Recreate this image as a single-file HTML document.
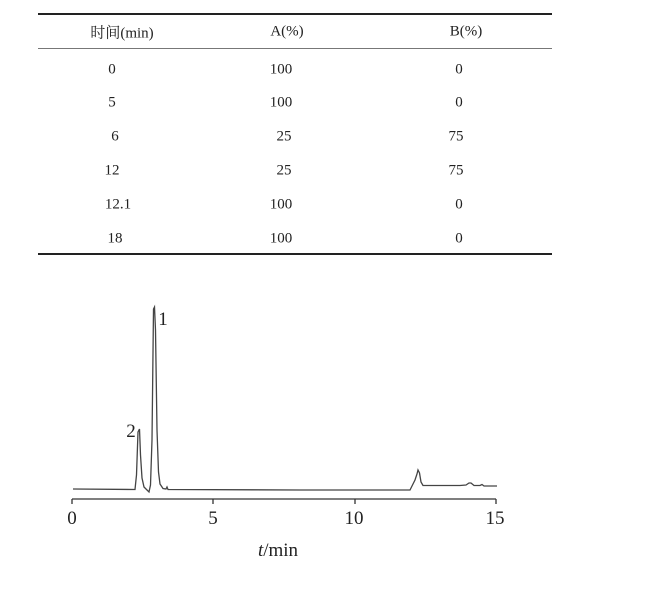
<!DOCTYPE html>
<html><head><meta charset="utf-8"><style>
body{margin:0;background:#fff;width:658px;height:590px;overflow:hidden;font-family:"Liberation Serif","Noto Serif CJK SC",serif;color:#222}
.t{position:absolute;font-size:15px;transform:translate(-50%,-50%);white-space:nowrap}
.l{position:absolute;left:38px;width:514px;background:#222}
</style></head><body>
<div class="l" style="top:13px;height:2px"></div>
<div class="l" style="top:48px;height:1px;background:#777"></div>
<div class="l" style="top:253px;height:2px"></div>
<div class="t" style="left:122px;top:32px">时间(min)</div>
<div class="t" style="left:287px;top:32px">A(%)</div>
<div class="t" style="left:466px;top:32px">B(%)</div>
<div class="t" style="left:112px;top:70px">0</div><div class="t" style="left:281px;top:70px">100</div><div class="t" style="left:459px;top:70px">0</div>
<div class="t" style="left:112px;top:103px">5</div><div class="t" style="left:281px;top:103px">100</div><div class="t" style="left:459px;top:103px">0</div>
<div class="t" style="left:115px;top:137px">6</div><div class="t" style="left:284px;top:137px">25</div><div class="t" style="left:456px;top:137px">75</div>
<div class="t" style="left:112px;top:171px">12</div><div class="t" style="left:284px;top:171px">25</div><div class="t" style="left:456px;top:171px">75</div>
<div class="t" style="left:118px;top:205px">12.1</div><div class="t" style="left:281px;top:205px">100</div><div class="t" style="left:459px;top:205px">0</div>
<div class="t" style="left:115px;top:239px">18</div><div class="t" style="left:281px;top:239px">100</div><div class="t" style="left:459px;top:239px">0</div>
<svg width="658" height="590" style="position:absolute;left:0;top:0">
<g stroke="#333" stroke-width="1.3" fill="none">
<line x1="72" y1="499" x2="496" y2="499"/>
<line x1="72" y1="499" x2="72" y2="504"/><line x1="213" y1="499" x2="213" y2="504"/>
<line x1="355" y1="499" x2="355" y2="504"/><line x1="496" y1="499" x2="496" y2="504"/>
</g>
<path d="M73,489 L135,489.5 L136.5,475 L138,432 L139.5,429 L140.5,455 L142,478 L144,487 L147,490 L149,492 L150.5,485 L152,440 L153.5,309 L154.5,307 L155.5,330 L157,430 L158.5,472 L160,484 L163,488.5 L166,489 L167,487 L168,489.5 L300,490 L410,490 L413,484 L415,480 L417,474 L418,470 L419.5,473 L421,482 L423,485.5 L440,485.5 L460,485.5 L466,485 L469,483 L471,483 L474,485.5 L480,485.5 L482,484.5 L484,486 L497,486" stroke="#444" stroke-width="1.3" fill="none"/>
<g font-family="Liberation Serif,serif" font-size="19" fill="#222" text-anchor="middle">
<text x="72" y="524">0</text><text x="213" y="524">5</text><text x="354" y="524">10</text><text x="495" y="524">15</text>
<text x="163" y="325">1</text><text x="131" y="437">2</text>
<text x="278" y="556"><tspan font-style="italic">t</tspan>/min</text>
</g></svg>
</body></html>
